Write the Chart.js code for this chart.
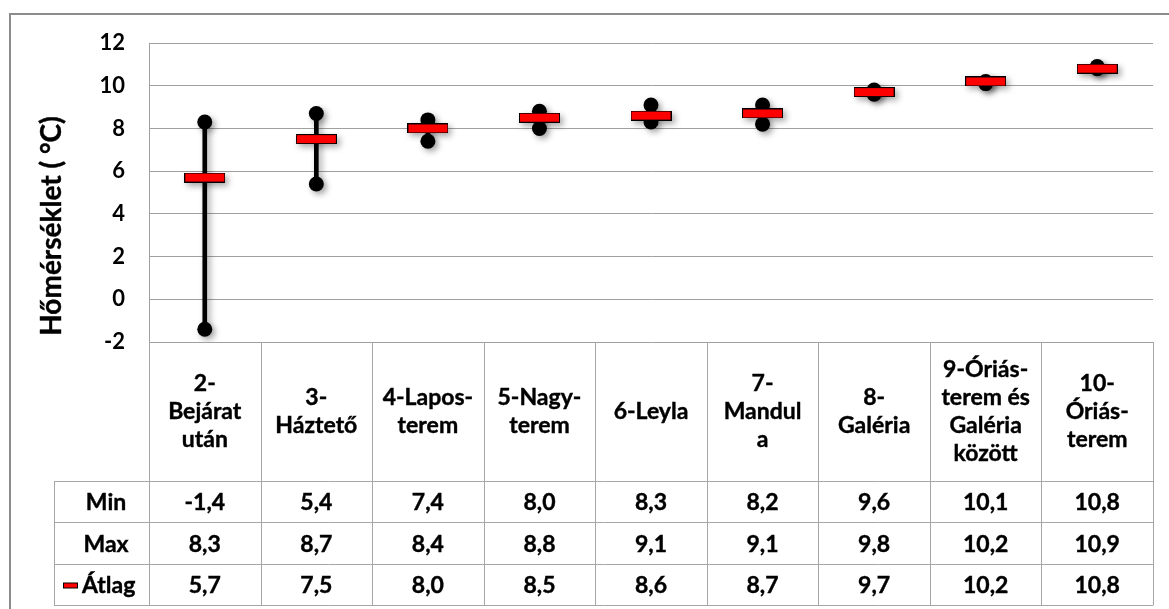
<!DOCTYPE html>
<html>
<head>
<meta charset="utf-8">
<script src="https://cdn.jsdelivr.net/npm/chart.js@4"></script>
<style>
html,body{margin:0;padding:0;background:#fff;}
#c{display:block;}
</style>
</head>
<body>
<canvas id="c" width="1169" height="609"></canvas>
<script>
const categories = [
  ["2-","Bejárat","után"],
  ["3-","Háztető"],
  ["4-Lapos-","terem"],
  ["5-Nagy-","terem"],
  ["6-Leyla"],
  ["7-","Mandul","a"],
  ["8-","Galéria"],
  ["9-Óriás-","terem és","Galéria","között"],
  ["10-","Óriás-","terem"]
];
const minVals = [-1.4, 5.4, 7.4, 8.0, 8.3, 8.2, 9.6, 10.1, 10.8];
const maxVals = [8.3, 8.7, 8.4, 8.8, 9.1, 9.1, 9.8, 10.2, 10.9];
const avgVals = [5.7, 7.5, 8.0, 8.5, 8.6, 8.7, 9.7, 10.2, 10.8];
const rowLabels = ["Min", "Max", "Átlag"];
const yTitle = "Hőmérséklet ( °C)";
const yMin = -2, yMax = 12, yStep = 2;

const FONT = "Lato, 'Open Sans', sans-serif";
const fmt = v => v.toFixed(1).replace('.', ',');

// marker image for the average (red bar with black outline)
const avgImg = document.createElement('canvas');
avgImg.width = 41; avgImg.height = 10;
(function(){
  const g = avgImg.getContext('2d');
  g.fillStyle = '#000'; g.fillRect(0,0,41,10);
  g.fillStyle = '#ff0000'; g.fillRect(1,1,39,8);
})();

const shadowPlugin = {
  id: 'shadow',
  beforeDatasetsDraw(chart){
    const ctx = chart.ctx;
    ctx.save();
    ctx.shadowColor = 'rgba(0,0,0,0.35)';
    ctx.shadowBlur = 6;
    ctx.shadowOffsetX = 3;
    ctx.shadowOffsetY = 3;
  },
  afterDatasetsDraw(chart){ chart.ctx.restore(); }
};

const bgPlugin = {
  id: 'bg',
  beforeDraw(chart){
    const ctx = chart.ctx;
    ctx.save();
    ctx.fillStyle = '#fff';
    ctx.fillRect(0,0,chart.width,chart.height);
    ctx.restore();
  }
};

function boldText(ctx, t, x, y) {
  ctx.fillText(t, x, y);
  ctx.strokeText(t, x, y);
}

const tablePlugin = {
  id: 'table',
  afterDraw(chart){
    const ctx = chart.ctx;
    const xs = chart.scales.x;
    const area = chart.chartArea;
    const n = categories.length;
    const w = (area.right - area.left) / n;
    const rowTop = 481, rowH = 41.4;
    const tableBottom = rowTop + rowH * 3;
    const leftCol = 54;
    ctx.save();
    // outer chart border
    ctx.strokeStyle = '#8c8c8c';
    ctx.lineWidth = 2;
    ctx.beginPath();
    ctx.moveTo(10, chart.height + 5); ctx.lineTo(10, 14); ctx.lineTo(chart.width + 5, 14);
    ctx.stroke();
    // table grid
    ctx.strokeStyle = '#a6a6a6';
    ctx.lineWidth = 1;
    ctx.beginPath();
    for (let i = 0; i <= n; i++) {
      const x = Math.round(area.left + i * w) + 0.5;
      ctx.moveTo(x, area.bottom); ctx.lineTo(x, tableBottom);
    }
    for (let r = 0; r <= 3; r++) {
      const y = Math.round(rowTop + r * rowH) + 0.5;
      ctx.moveTo(leftCol, y); ctx.lineTo(area.right, y);
    }
    ctx.moveTo(leftCol + 0.5, rowTop); ctx.lineTo(leftCol + 0.5, tableBottom);
    ctx.stroke();

    // header labels
    ctx.fillStyle = '#000';
    ctx.strokeStyle = '#000';
    ctx.lineWidth = 0.4;
    ctx.font = "bold 23px " + FONT;
    ctx.textAlign = 'center';
    ctx.textBaseline = 'middle';
    const hdrMid = (area.bottom + rowTop) / 2;
    const lh = 28;
    categories.forEach((lines, i) => {
      const cx = xs.getPixelForValue(i);
      const y0 = hdrMid - (lines.length - 1) * lh / 2;
      lines.forEach((t, k) => boldText(ctx, t, cx, y0 + k * lh));
    });
    // rows
    const rows = [minVals, maxVals, avgVals];
    rows.forEach((vals, r) => {
      const cy = rowTop + r * rowH + rowH / 2 + 1;
      vals.forEach((v, i) => boldText(ctx, fmt(v), xs.getPixelForValue(i), cy));
    });
    ctx.textAlign = 'center';
    boldText(ctx, rowLabels[0], 106, rowTop + rowH / 2 + 1);
    boldText(ctx, rowLabels[1], 106, rowTop + rowH * 1.5 + 1);
    // legend key + Átlag
    const ly = rowTop + rowH * 2.5 + 1;
    ctx.fillStyle = '#000';
    ctx.fillRect(63, ly - 3, 15, 6);
    ctx.fillStyle = '#ff0000';
    ctx.fillRect(64, ly - 2, 13, 4);
    ctx.fillStyle = '#000';
    ctx.textAlign = 'left';
    boldText(ctx, rowLabels[2], 82, ly);

    // y axis title
    ctx.save();
    ctx.translate(52, 226);
    ctx.rotate(-Math.PI / 2);
    ctx.textAlign = 'center';
    ctx.textBaseline = 'middle';
    ctx.font = "bold 28px " + FONT;
    boldText(ctx, yTitle, 0, 0);
    ctx.restore();
    ctx.restore();
  }
};

new Chart(document.getElementById('c'), {
  type: 'bar',
  data: {
    labels: categories,
    datasets: [
      {
        type: 'bar',
        label: 'Tartomány',
        data: minVals.map((v, i) => [v, maxVals[i]]),
        backgroundColor: '#000',
        barThickness: 4,
        order: 3
      },
      {
        type: 'line',
        label: 'Min',
        data: minVals,
        showLine: false,
        pointRadius: 7.5,
        pointHoverRadius: 7.5,
        pointBackgroundColor: '#000',
        pointBorderWidth: 0,
        order: 2
      },
      {
        type: 'line',
        label: 'Max',
        data: maxVals,
        showLine: false,
        pointRadius: 7.5,
        pointHoverRadius: 7.5,
        pointBackgroundColor: '#000',
        pointBorderWidth: 0,
        order: 2
      },
      {
        type: 'line',
        label: 'Átlag',
        data: avgVals,
        showLine: false,
        pointStyle: avgImg,
        pointRadius: 5,
        pointHoverRadius: 5,
        order: 1
      }
    ]
  },
  options: {
    responsive: false,
    animation: false,
    devicePixelRatio: 1,
    events: [],
    layout: { padding: { left: 0, top: 43, right: 16, bottom: 267 } },
    plugins: { legend: { display: false }, tooltip: { enabled: false } },
    scales: {
      x: {
        offset: true,
        grid: { display: false },
        border: { display: false },
        ticks: { display: false },
        afterFit(s) { s.height = 0; }
      },
      y: {
        min: yMin, max: yMax,
        ticks: {
          stepSize: yStep, padding: 24, color: '#000',
          font: { family: FONT, weight: 'bold', size: 22 }
        },
        grid: { color: '#a0a0a0', drawTicks: false, lineWidth: 1 },
        border: { display: true, color: '#a0a0a0' },
        afterFit(s) { s.width = 149; }
      }
    }
  },
  plugins: [bgPlugin, shadowPlugin, tablePlugin]
});
</script>
</body>
</html>
